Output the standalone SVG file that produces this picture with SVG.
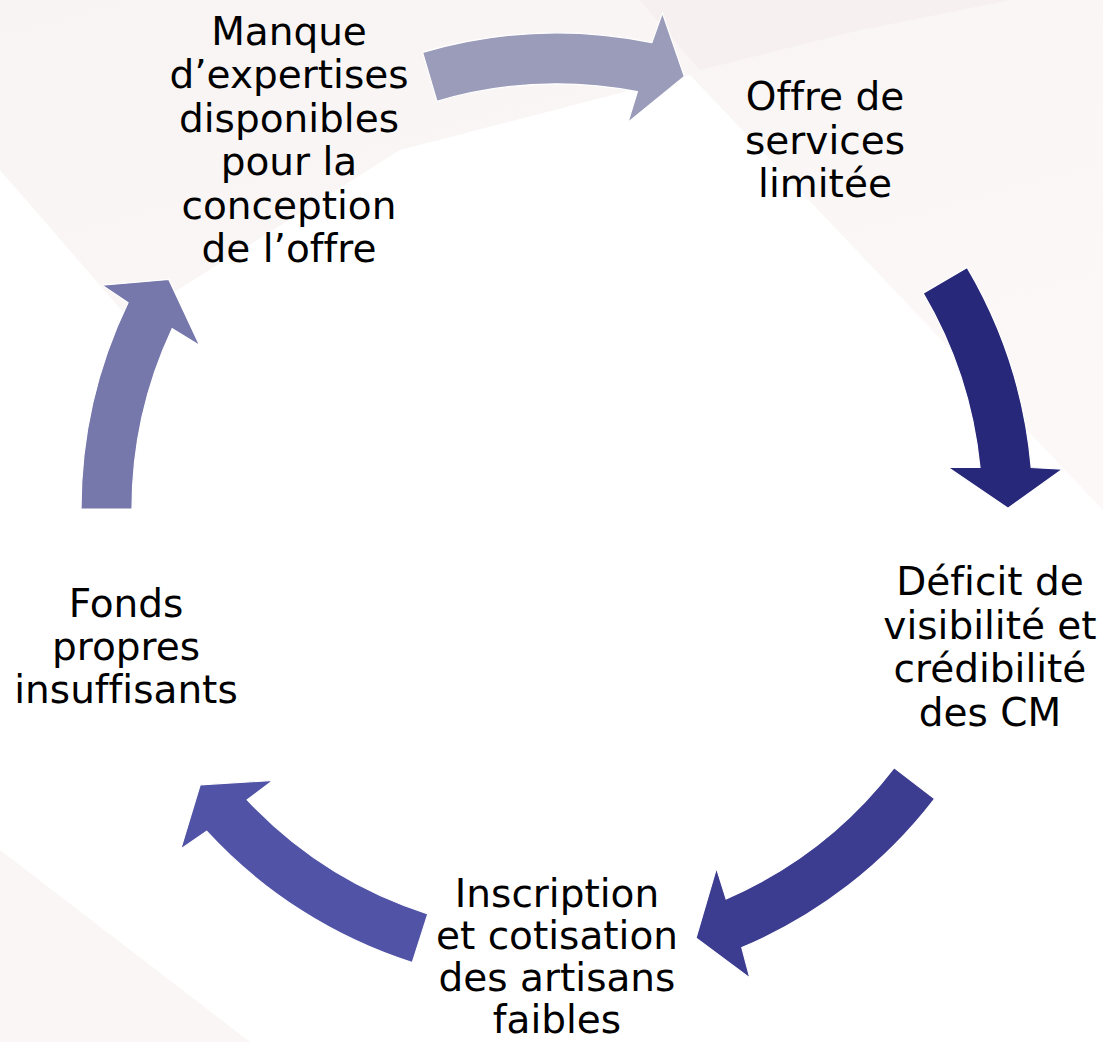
<svg xmlns="http://www.w3.org/2000/svg" width="1103" height="1042" viewBox="0 0 1103 1042">
  <defs>
    <linearGradient id="bgTop" x1="0" y1="0" x2="0.6" y2="1">
      <stop offset="0" stop-color="#f8f4f3"/>
      <stop offset="1" stop-color="#fbf8f7"/>
    </linearGradient>
    <style>
      .lbl { font-family: "DejaVu Sans", Verdana, sans-serif; font-size: 39px; fill: #000000; text-anchor: middle; font-variant-ligatures: none; font-feature-settings: "liga" 0; }
      .arrow { stroke: #ffffff; stroke-width: 1.2; stroke-linejoin: miter; }
    </style>
  </defs>

  <!-- background -->
  <rect x="0" y="0" width="1103" height="1042" fill="#ffffff"/>
  <polygon points="0,0 1103,0 1103,510 690,75 400,150 130,320 0,170" fill="url(#bgTop)"/>
  <polygon points="640,0 1010,0 860,30 700,70" fill="#f4ecec" opacity="0.6"/>
  <polygon points="0,850 250,1042 0,1042" fill="#faf6f5"/>

  <!-- connectors -->
  <g id="connectors">
    <path id="arrow-manque-offre" class="arrow" fill="#9b9cb9" d="M422.6,52.4 A476,476 0 0 1 651.9,42.6 L662.4,13.1 L684.3,76.4 L627.9,122.5 L637.4,91.7 A425,425 0 0 0 437.0,101.3 Z"/>
    <path id="arrow-offre-deficit" class="arrow" fill="#28287a" d="M967.1,267.4 A476,476 0 0 1 1031.2,467.5 L1062.4,469.2 L1008.0,508.2 L947.8,467.2 L980.0,467.5 A425,425 0 0 0 923.2,293.3 Z"/>
    <path id="arrow-deficit-inscription" class="arrow" fill="#3c3c90" d="M934.6,798.8 A476,476 0 0 1 741.8,947.6 L749.8,977.9 L696.0,938.0 L716.5,868.2 L726.1,898.9 A425,425 0 0 0 894.2,767.7 Z"/>
    <path id="arrow-inscription-fonds" class="arrow" fill="#5153a6" d="M412.3,962.5 A476,476 0 0 1 206.6,831.2 L180.8,848.9 L200.2,784.8 L272.9,780.5 L247.2,799.9 A425,425 0 0 0 427.8,913.9 Z"/>
    <path id="arrow-fonds-manque" class="arrow" fill="#7677ab" d="M81,509 A476,476 0 0 1 128.1,302.6 L102.1,285.2 L168.8,279.4 L199.7,345.4 L172.1,328.7 A425,425 0 0 0 132,509 Z"/>
  </g>

  <!-- nodes -->
  <g id="node-manque">
    <text class="lbl" x="289" y="45">Manque</text>
    <text class="lbl" x="289" y="88.4">d’expertises</text>
    <text class="lbl" x="289" y="131.8">disponibles</text>
    <text class="lbl" x="289" y="175.2">pour la</text>
    <text class="lbl" x="289" y="218.6">conception</text>
    <text class="lbl" x="289" y="262">de l’offre</text>
  </g>
  <g id="node-offre">
    <text class="lbl" x="825" y="110">Offre de</text>
    <text class="lbl" x="825" y="153.5">services</text>
    <text class="lbl" x="825" y="197">limitée</text>
  </g>
  <g id="node-deficit">
    <text class="lbl" x="990" y="595">Déficit de</text>
    <text class="lbl" x="990" y="638.5">visibilité et</text>
    <text class="lbl" x="990" y="682">crédibilité</text>
    <text class="lbl" x="990" y="725.5">des CM</text>
  </g>
  <g id="node-inscription">
    <text class="lbl" x="557" y="907">Inscription</text>
    <text class="lbl" x="557" y="949">et cotisation</text>
    <text class="lbl" x="557" y="991">des artisans</text>
    <text class="lbl" x="557" y="1033">faibles</text>
  </g>
  <g id="node-fonds">
    <text class="lbl" x="126" y="617">Fonds</text>
    <text class="lbl" x="126" y="660">propres</text>
    <text class="lbl" x="126" y="703">insuffisants</text>
  </g>
</svg>
